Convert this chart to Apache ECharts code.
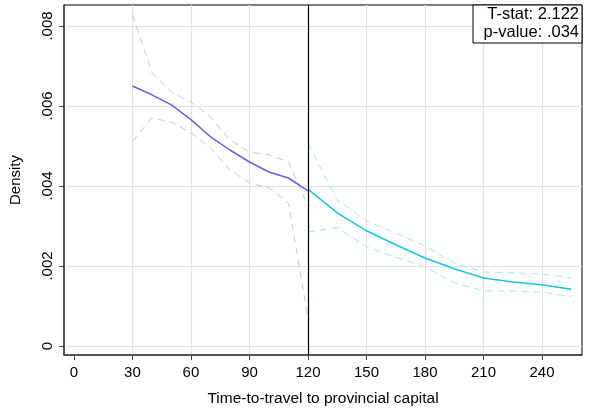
<!DOCTYPE html>
<html>
<head>
<meta charset="utf-8">
<script src="https://cdn.jsdelivr.net/npm/echarts@6/dist/echarts.min.js"></script>
<style>
  html, body { margin: 0; padding: 0; background: #fff; }
  #main { width: 594px; height: 412px; }
</style>
</head>
<body>
<div id="main"></div>
<script>
// left of the cutoff (purple)
var leftX = [30, 40, 50, 60, 70, 80, 90, 100, 110, 120];
var leftFit = [0.0065, 0.00628, 0.00603, 0.00566, 0.00523, 0.0049, 0.0046, 0.00435, 0.0042, 0.00388];
var leftUpper = [0.00828, 0.00683, 0.00635, 0.0061, 0.00573, 0.00515, 0.00485, 0.00478, 0.0046, 0.0035];
var leftLower = [0.00512, 0.0057, 0.0056, 0.00533, 0.00495, 0.0044, 0.00408, 0.00395, 0.00357, 0.0007];

// right of the cutoff (teal)
var rightX = [120, 135, 150, 165, 180, 195, 210, 225, 240, 255];
var rightFit = [0.00392, 0.00333, 0.00288, 0.00253, 0.0022, 0.00193, 0.0017, 0.0016, 0.00153, 0.00142];
var rightUpper = [0.00507, 0.00365, 0.00313, 0.00282, 0.0025, 0.00207, 0.00185, 0.00183, 0.0018, 0.0017];
var rightLower = [0.00285, 0.00296, 0.00248, 0.00222, 0.00198, 0.00158, 0.00138, 0.00137, 0.00135, 0.00123];

var xTicks = [0, 30, 60, 90, 120, 150, 180, 210, 240];
var yTicks = [0, 0.002, 0.004, 0.006, 0.008];
var cutoff = 120;
var statText = 'T-stat: 2.122\np-value: .034';

var FONT = "'Liberation Sans', Arial, Helvetica, sans-serif";

function pairs(xs, ys) {
    return xs.map(function (x, i) { return [x, ys[i]]; });
}

function mkLine(xs, ys, color, dashed, width) {
    return {
        type: 'line',
        data: pairs(xs, ys),
        showSymbol: false,
        symbol: 'none',
        silent: true,
        lineStyle: {
            color: color,
            width: width,
            type: dashed ? [7, 5] : 'solid'
        },
        z: dashed ? 2 : 3
    };
}

var chart = echarts.init(document.getElementById('main'));

var series = [
    mkLine(leftX, leftUpper, '#c9c4f9', true, 1),
    mkLine(leftX, leftLower, '#c9c4f9', true, 1),
    mkLine(rightX, rightUpper, '#a9e8f2', true, 1),
    mkLine(rightX, rightLower, '#a9e8f2', true, 1),
    mkLine(leftX, leftFit, '#6a5cf2', false, 1.5),
    mkLine(rightX, rightFit, '#18c3dc', false, 1.5)
];

// black cutoff line
series[0].markLine = {
    silent: true,
    symbol: 'none',
    label: { show: false },
    lineStyle: { color: '#000', width: 1.2, type: 'solid' },
    data: [{ xAxis: cutoff }],
    z: 5
};

var option = {
    animation: false,
    backgroundColor: '#fff',
    textStyle: { fontFamily: FONT },
    grid: {
        left: 63, top: 5, right: 12, bottom: 57,
        show: true,
        borderColor: '#000',
        borderWidth: 1
    },
    xAxis: {
        type: 'value',
        min: -5.1,
        max: 260.5,
        name: 'Time-to-travel to provincial capital',
        nameLocation: 'middle',
        nameGap: 36,
        nameTextStyle: { color: '#000', fontSize: 15.5, fontFamily: FONT },
        axisLine: { show: true, onZero: false, lineStyle: { color: '#444', width: 1.5 } },
        axisTick: { show: true, length: 5, customValues: xTicks, lineStyle: { color: '#444' } },
        axisLabel: {
            customValues: xTicks,
            color: '#000', fontSize: 15, margin: 10, fontFamily: FONT
        },
        splitLine: {
            show: true,
            lineStyle: {
                color: ['rgba(0,0,0,0)', '#e0e0e0', '#e0e0e0', '#e0e0e0', '#e0e0e0',
                        '#e0e0e0', '#e0e0e0', '#e0e0e0', '#e0e0e0'],
                width: 1.2
            }
        }
    },
    yAxis: {
        type: 'value',
        min: -0.000225,
        max: 0.008525,
        name: 'Density',
        nameLocation: 'middle',
        nameGap: 41,
        nameRotate: 90,
        nameTextStyle: { color: '#000', fontSize: 15, fontFamily: FONT },
        axisLine: { show: true, onZero: false, lineStyle: { color: '#444', width: 1.5 } },
        axisTick: { show: true, length: 5, customValues: yTicks, lineStyle: { color: '#444' } },
        axisLabel: {
            customValues: yTicks,
            rotate: 90,
            color: '#000', fontSize: 15, margin: 9, fontFamily: FONT,
            formatter: function (v) {
                if (v === 0) return '0';
                return String(Number(v.toFixed(3))).replace(/^0/, '');
            }
        },
        splitLine: { show: true, lineStyle: { color: '#e0e0e0', width: 1.2 } }
    },
    graphic: [
        {
            type: 'rect',
            shape: { x: 473, y: 5, width: 109, height: 38 },
            style: { fill: '#fff', stroke: '#000', lineWidth: 1 },
            z: 10
        },
        {
            type: 'text',
            x: 579, y: 6,
            style: {
                text: statText,
                fill: '#000',
                font: '16.5px ' + FONT,
                lineHeight: 17.5,
                align: 'right',
                verticalAlign: 'top'
            },
            z: 11
        }
    ],
    series: series
};

option && chart.setOption(option);
</script>
</body>
</html>
